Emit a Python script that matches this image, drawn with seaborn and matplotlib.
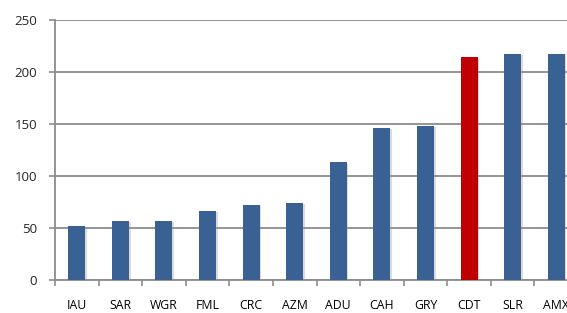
import matplotlib
matplotlib.use("Agg")
import matplotlib.pyplot as plt
import matplotlib.patheffects as pe
from matplotlib.ticker import FixedLocator
import pandas as pd
import seaborn as sns

categories = ["IAU", "SAR", "WGR", "FML", "CRC", "AZM", "ADU", "CAH", "GRY", "CDT", "SLR", "AMX"]
values = [52, 57, 57, 66, 72, 74, 113, 146, 148, 214, 217, 217]
highlight = "CDT"

BLUE = "#3A6193"
RED = "#C00000"
GRID = "#8C8C8C"

sns.set_theme(style="white")
plt.rcParams["font.family"] = ["Open Sans", "DejaVu Sans"]

df = pd.DataFrame({"code": categories, "value": values})
palette = {c: (RED if c == highlight else BLUE) for c in categories}

fig = plt.figure(figsize=(5.67, 3.13), dpi=100)
# plot area runs past the right edge, as in the reference
ax = fig.add_axes([55 / 567, 33 / 313, 523 / 567, 260 / 313])

sns.barplot(data=df, x="code", y="value", hue="code", palette=palette,
            width=0.39, legend=False, ax=ax, saturation=1, edgecolor="none", zorder=3)

for bar in ax.patches:
    bar.set_path_effects([pe.SimplePatchShadow(offset=(1.2, -0.8), shadow_rgbFace="#999999", alpha=0.35),
                          pe.Normal()])

ax.set_ylim(0, 250)
ax.set_xlim(-0.5, len(categories) - 0.5)
ax.set_yticks(range(0, 251, 50))
ax.yaxis.grid(True, color=GRID, linewidth=1.3, zorder=0)
ax.set_axisbelow(True)
ax.set_xlabel("")
ax.set_ylabel("")

for side in ["top", "right"]:
    ax.spines[side].set_visible(False)
for side in ["left", "bottom"]:
    ax.spines[side].set_color(GRID)
    ax.spines[side].set_linewidth(1.3)

ax.xaxis.set_minor_locator(FixedLocator([i - 0.5 for i in range(len(categories) + 1)]))
ax.tick_params(axis="x", which="major", length=0, pad=14, labelsize=8.8, colors="#000000")
ax.tick_params(axis="x", which="minor", bottom=True, length=4, width=1.2, color=GRID, direction="out")
ax.tick_params(axis="y", left=True, length=4, width=1.2, color=GRID, pad=9, labelsize=9.5)

fig.savefig("out.png", dpi=100)
